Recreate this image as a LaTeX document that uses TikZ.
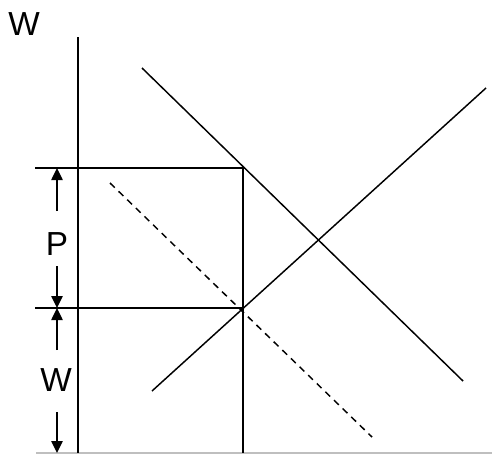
\documentclass[tikz,border=0pt]{standalone}
\usepackage{fontspec}
\setmainfont{Liberation Sans}
\usetikzlibrary{arrows.meta}
\begin{document}
\begin{tikzpicture}[x=0.75pt,y=-0.75pt,
  ln/.style={line width=1.1pt,black},
  dim/.style={line width=1.1pt,-{Triangle[length=9pt,width=8.5pt]}},
  lbl/.style={font=\fontsize{25}{28}\selectfont,inner sep=0pt}]
\useasboundingbox (0,0) rectangle (492,454);
% axes
\coordinate (ytop) at (78,37);
\coordinate (ybot) at (78,453);
\coordinate (bl) at (36,453);
\coordinate (br) at (492,453);
\draw[line width=1pt,black!25] (bl) -- (br);
\draw[ln] (ytop) -- (ybot);
\node[lbl] (wtop) at (24,24) {W};
% horizontal guide lines
\coordinate (h1l) at (35,168);
\coordinate (h1r) at (245,168);
\coordinate (h2l) at (35,308);
\coordinate (eq) at (243,308);
\coordinate (vtop) at (243,168);
\coordinate (vbot) at (243,453);
\draw[ln] (h1l) -- (h1r);
\draw[ln] (h2l) -- (eq);
\draw[ln] (vtop) -- (vbot);
% demand line
\coordinate (d1) at (142,68);
\coordinate (d2) at (463,381);
\draw[ln] (d1) -- (d2);
% supply line
\coordinate (s1) at (152,391);
\coordinate (s2) at (486,88);
\draw[ln] (s1) -- (s2);
% dashed line
\coordinate (dd1) at (110,183);
\coordinate (dd2) at (372,437);
\draw[ln,dashed,dash pattern=on 5pt off 4pt] (dd1) -- (dd2);
% dimension arrows
\node[lbl] (P) at (57,244) {P};
\node[lbl] (W) at (56,380) {W};
\coordinate (a1s) at (57,211);
\coordinate (a1e) at (57,168);
\coordinate (a2s) at (57,266);
\coordinate (a2e) at (57,308);
\coordinate (a3s) at (57,350);
\coordinate (a3e) at (57,308);
\coordinate (a4s) at (57,412);
\coordinate (a4e) at (57,453);
\draw[dim] (a1s) -- (a1e);
\draw[dim] (a2s) -- (a2e);
\draw[dim] (a3s) -- (a3e);
\draw[dim] (a4s) -- (a4e);
\end{tikzpicture}
\end{document}
